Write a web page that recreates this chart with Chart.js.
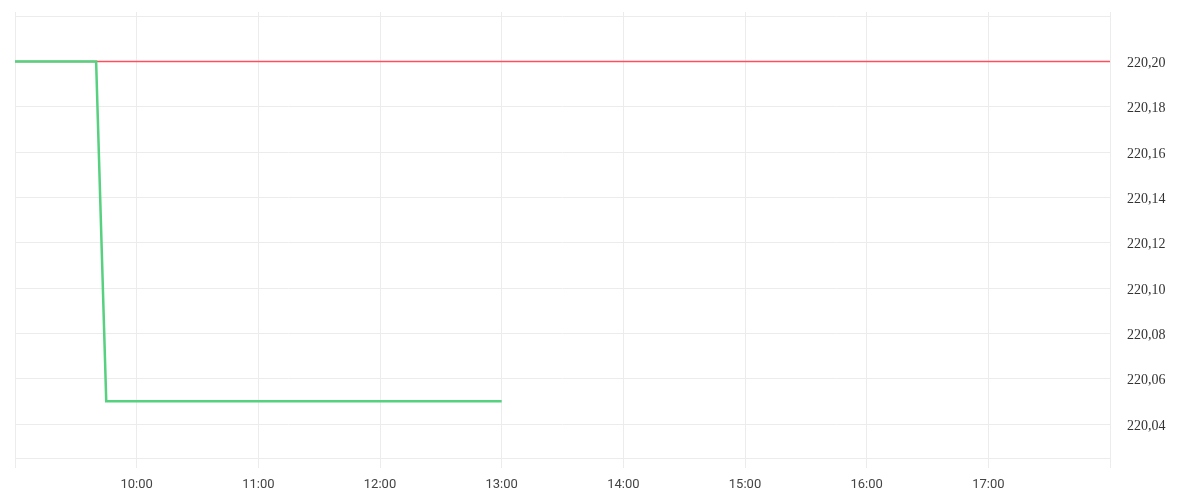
<!DOCTYPE html>
<html>
<head>
<meta charset="utf-8">
<script src="https://cdn.jsdelivr.net/npm/chart.js@4"></script>
<style>
  html, body { margin: 0; padding: 0; background: #fff; }
  #wrap { width: 1200px; height: 500px; }
</style>
</head>
<body>
<div id="wrap"><canvas id="priceChart"></canvas></div>
<script>
// minutes since midnight
const priceTimes = [540, 580, 585, 780];
const priceValues = [220.2, 220.2, 220.05, 220.05];
const refTimes = [540, 1080];
const refValues = [220.2, 220.2];
const xTicks = [540, 600, 660, 720, 780, 840, 900, 960, 1020, 1080];
const yTicks = [220.04, 220.06, 220.08, 220.1, 220.12, 220.14, 220.16, 220.18, 220.2, 220.22];

const fmtTime = (m) => {
  const h = Math.floor(m / 60);
  const mm = m % 60;
  return String(h).padStart(2, "0") + ":" + String(mm).padStart(2, "0");
};

const gridColor = "#ececec";
const ctx = document.getElementById("priceChart").getContext("2d");

new Chart(ctx, {
  type: "line",
  data: {
    datasets: [
      {
        label: "Kurssi",
        data: priceTimes.map((t, i) => ({ x: t, y: priceValues[i] })),
        borderColor: "#55d17f",
        borderWidth: 2.5,
        pointRadius: 0,
        tension: 0,
        fill: false,
      },
      {
        label: "Edellinen",
        data: refTimes.map((t, i) => ({ x: t, y: refValues[i] })),
        borderColor: "#ff4f5c",
        borderWidth: 1.5,
        pointRadius: 0,
        tension: 0,
        fill: false,
      },
    ],
  },
  options: {
    responsive: true,
    maintainAspectRatio: false,
    animation: false,
    layout: { padding: { left: 15, top: 12, right: 0, bottom: 0 } },
    plugins: {
      legend: { display: false },
      tooltip: { enabled: false },
    },
    scales: {
      x: {
        type: "linear",
        min: 540,
        max: 1080,
        afterBuildTicks: (scale) => {
          scale.ticks = xTicks.map((v) => ({ value: v }));
        },
        afterFit: (scale) => {
          scale.height = 42;
        },
        grid: {
          color: gridColor,
          lineWidth: 1,
          drawTicks: true,
          tickLength: 10,
          tickColor: gridColor,
        },
        border: { display: true, color: gridColor },
        ticks: {
          padding: 9,
          maxRotation: 0,
          autoSkip: false,
          color: "#444",
          font: { family: "Roboto", size: 13 },
          callback: (v) => (v === 540 || v === 1080 ? "" : fmtTime(v)),
        },
      },
      y: {
        type: "linear",
        position: "right",
        min: 220.025,
        max: 220.2218,
        afterBuildTicks: (scale) => {
          scale.ticks = yTicks.map((v) => ({ value: v }));
        },
        afterFit: (scale) => {
          scale.width = 90;
          scale.paddingTop = 0;
          scale.paddingBottom = 0;
        },
        grid: {
          color: gridColor,
          lineWidth: 1,
          drawTicks: false,
        },
        border: { display: false },
        ticks: {
          padding: 17,
          labelOffset: 2,
          color: "#333",
          font: { family: "Liberation Serif", size: 14 },
          callback: (v) => (v > 220.21 ? "" : v.toFixed(2).replace(".", ",")),
        },
      },
    },
  },
});
</script>
</body>
</html>
